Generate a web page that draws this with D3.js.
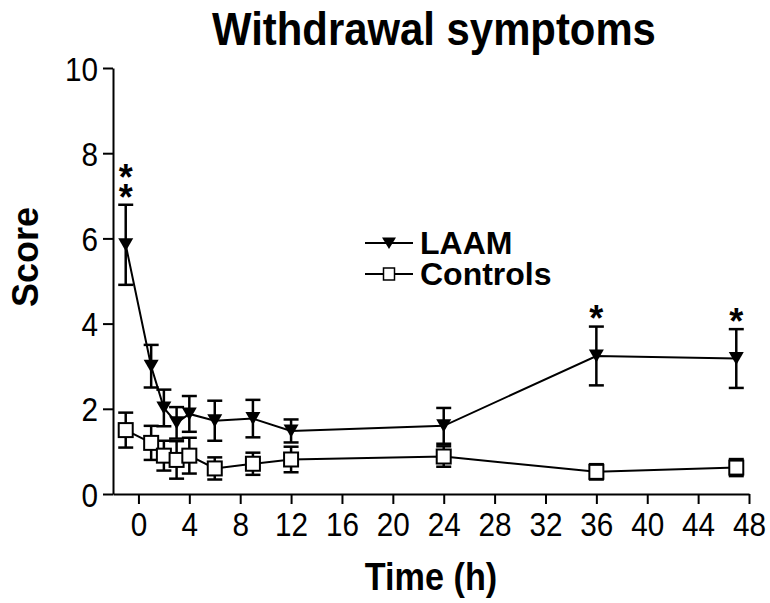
<!DOCTYPE html>
<html>
<head>
<meta charset="utf-8">
<script src="https://cdn.jsdelivr.net/npm/d3@7"></script>
<style>
  html, body { margin: 0; padding: 0; background: #fff; }
  svg { display: block; }
  text { font-family: "Liberation Sans", Arial, sans-serif; fill: #000; }
</style>
</head>
<body>
<svg id="chart" width="770" height="603"></svg>
<script>
// Withdrawal symptom score over time, mean ± SEM
const hours     = [-1, 1, 2, 3, 4, 6, 9, 12, 24, 36, 47];
const laamMean  = [5.85, 3.0, 2.02, 1.67, 1.88, 1.72, 1.77, 1.48, 1.6, 3.24, 3.18];
const laamSem   = [0.94, 0.5, 0.43, 0.37, 0.42, 0.47, 0.44, 0.27, 0.42, 0.69, 0.69];
const ctrlMean  = [1.5, 1.2, 0.9, 0.8, 0.9, 0.6, 0.71, 0.81, 0.88, 0.52, 0.62];
const ctrlSem   = [0.41, 0.4, 0.35, 0.44, 0.42, 0.26, 0.26, 0.3, 0.24, 0.18, 0.2];
const xTicks    = [0, 4, 8, 12, 16, 20, 24, 28, 32, 36, 40, 44, 48];
const yTicks    = [0, 2, 4, 6, 8, 10];
const starHours = [-1, 36, 47];
const starCount = [2, 1, 1];
const seriesNames = ["LAAM", "Controls"];

const svg = d3.select("#chart");
const font = '"Liberation Sans", Arial, sans-serif';

const x = d3.scaleLinear().domain([-2, 48]).range([113, 749]);
const y = d3.scaleLinear().domain([0, 10]).range([494, 68]);

// Narrow-looking text: horizontally condensed glyphs
function condensedText(parent, px, py, size, str, sx, weight) {
  return parent.append("text")
    .attr("transform", `translate(${px},${py}) scale(${sx},1)`)
    .attr("text-anchor", "middle")
    .attr("font-size", size).attr("font-weight", weight || "normal")
    .text(str);
}

// Title
condensedText(svg, 434, 45, 46, "Withdrawal symptoms", 0.91, "bold");

// Axes
const yAxis = svg.append("g")
  .attr("transform", `translate(${x(-2)},0)`)
  .call(d3.axisLeft(y).tickValues(yTicks).tickSize(10).tickSizeOuter(0).tickPadding(6));
const xAxis = svg.append("g")
  .attr("transform", `translate(0,${y(0)})`)
  .call(d3.axisBottom(x).tickValues(xTicks).tickSize(10).tickSizeOuter(0).tickPadding(12));
[yAxis, xAxis].forEach(g => {
  g.selectAll("path.domain").attr("stroke", "#000").attr("stroke-width", 2);
  g.selectAll(".tick line").attr("stroke", "#000").attr("stroke-width", 2);
});
yAxis.selectAll(".tick text")
  .attr("font-family", font).attr("font-size", 33).attr("fill", "#000")
  .attr("x", null).attr("dy", null).attr("y", 12)
  .attr("transform", "translate(-15,0) scale(0.9,1)");
xAxis.selectAll(".tick text")
  .attr("font-family", font).attr("font-size", 33).attr("fill", "#000")
  .attr("dy", null).attr("y", 42)
  .attr("transform", "scale(0.9,1)");

// Axis titles
svg.append("text")
  .attr("transform", "translate(38,257) rotate(-90)")
  .attr("text-anchor", "middle")
  .attr("font-size", 36).attr("font-weight", "bold")
  .text("Score");
condensedText(svg, 431, 590, 38, "Time (h)", 0.9, "bold");

// Symbol shapes
const triPath = d3.line()([[-7.5, -6.5], [7.5, -6.5], [0, 6.5]]) + "Z";
const sqSize = 14;

function drawSeries(means, sems, kind) {
  const g = svg.append("g");
  const pts = hours.map((h, i) => ({ h, m: means[i], s: sems[i] }));
  // error bars
  const eb = g.append("g").attr("stroke", "#000").attr("stroke-width", 2.5);
  pts.forEach(p => {
    const cx = x(p.h), top = y(p.m + p.s), bot = y(p.m - p.s);
    eb.append("line").attr("x1", cx).attr("x2", cx).attr("y1", top).attr("y2", bot);
    eb.append("line").attr("x1", cx - 7.5).attr("x2", cx + 7.5).attr("y1", top).attr("y2", top);
    eb.append("line").attr("x1", cx - 7.5).attr("x2", cx + 7.5).attr("y1", bot).attr("y2", bot);
  });
  // connecting line
  g.append("path")
    .attr("d", d3.line().x(p => x(p.h)).y(p => y(p.m))(pts))
    .attr("fill", "none").attr("stroke", "#000").attr("stroke-width", 2);
  // symbols
  pts.forEach(p => {
    if (kind === "tri") {
      g.append("path").attr("d", triPath)
        .attr("transform", `translate(${x(p.h)},${y(p.m)})`)
        .attr("fill", "#000");
    } else {
      g.append("rect")
        .attr("x", x(p.h) - sqSize / 2).attr("y", y(p.m) - sqSize / 2)
        .attr("width", sqSize).attr("height", sqSize)
        .attr("fill", "#fff").attr("stroke", "#000").attr("stroke-width", 2);
    }
  });
}

drawSeries(ctrlMean, ctrlSem, "sq");
drawSeries(laamMean, laamSem, "tri");

// Significance stars above LAAM error bars (stacked vertically)
const starSize = 36;
starHours.forEach((h, k) => {
  const i = hours.indexOf(h);
  const top = y(laamMean[i] + laamSem[i]);
  const n = starCount[k];
  const firstCy = top - 15 - (n - 1) * 20;
  const t = svg.append("text")
    .attr("text-anchor", "middle")
    .attr("font-size", starSize).attr("font-weight", "bold");
  for (let j = 0; j < n; j++) {
    t.append("tspan")
      .attr("x", x(h))
      .attr("y", firstCy + j * 20 + 0.55 * starSize)
      .text("*");
  }
});

// Legend
const legend = svg.append("g");
const legY = [243, 274];
legY.forEach((ly, i) => {
  legend.append("line").attr("x1", 365).attr("x2", 413).attr("y1", ly).attr("y2", ly)
    .attr("stroke", "#000").attr("stroke-width", 2);
  if (i === 0) {
    legend.append("path").attr("d", d3.line()([[-7, -5.5], [7, -5.5], [0, 6]]) + "Z")
      .attr("transform", `translate(389,${ly})`).attr("fill", "#000");
  } else {
    legend.append("rect").attr("x", 389 - 5.5).attr("y", ly - 6).attr("width", 11).attr("height", 12)
      .attr("fill", "#fff").attr("stroke", "#000").attr("stroke-width", 1.5);
  }
});
const legText = legend.append("text")
  .attr("font-size", 32).attr("font-weight", "bold");
legY.forEach((ly, i) => {
  legText.append("tspan").attr("x", 420).attr("y", ly + 11).text(seriesNames[i]);
});
</script>
</body>
</html>
